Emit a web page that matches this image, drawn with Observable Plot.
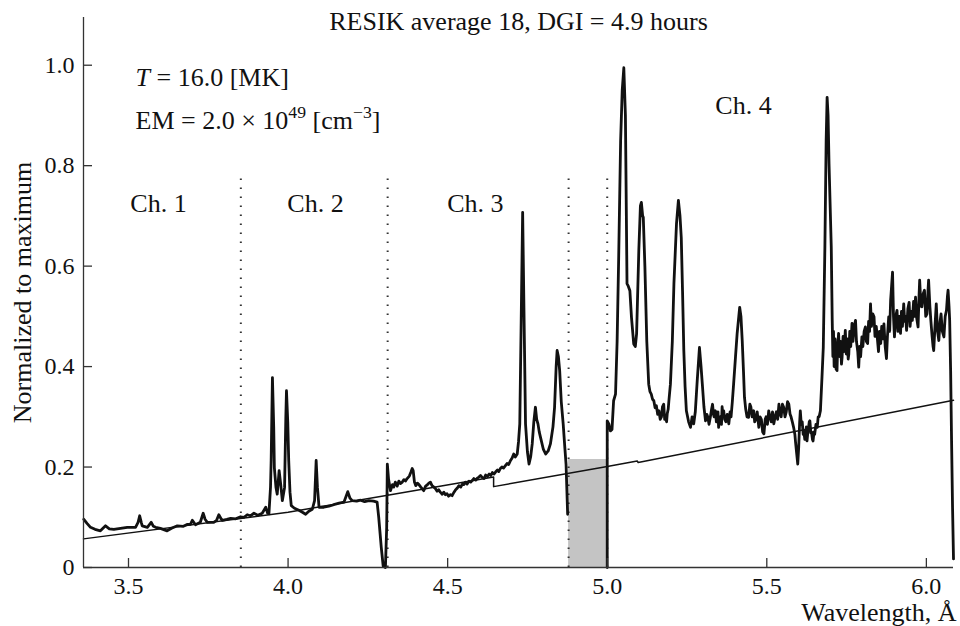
<!DOCTYPE html>
<html>
<head>
<meta charset="utf-8">
<script src="https://cdn.jsdelivr.net/npm/d3@7"></script>
<script src="https://cdn.jsdelivr.net/npm/@observablehq/plot@0.6"></script>
<style>
  html, body { margin: 0; padding: 0; background: #fff; }
  #chart svg { display: block; }
</style>
</head>
<body>
<div id="chart"></div>
<script>
// RESIK averaged spectrum, [wavelength Å, normalized intensity]
// Channels 1–3 form one continuous trace; channel 4 starts after the uncovered gap.
const spectrumCh1to3 = [
  [3.360, 0.096], [3.370, 0.088], [3.381, 0.080], [3.395, 0.076], [3.412, 0.073],
  [3.428, 0.083], [3.440, 0.077], [3.454, 0.076], [3.475, 0.078], [3.496, 0.080],
  [3.522, 0.080], [3.530, 0.090], [3.535, 0.103], [3.540, 0.090], [3.543, 0.083],
  [3.559, 0.080], [3.571, 0.090], [3.578, 0.082], [3.585, 0.080], [3.600, 0.078],
  [3.621, 0.073], [3.635, 0.078], [3.653, 0.083], [3.672, 0.082], [3.685, 0.086],
  [3.694, 0.086], [3.700, 0.094], [3.710, 0.085], [3.725, 0.090], [3.734, 0.108],
  [3.740, 0.096], [3.747, 0.090], [3.767, 0.090], [3.776, 0.094], [3.783, 0.105],
  [3.790, 0.097], [3.794, 0.094], [3.808, 0.096], [3.820, 0.098], [3.836, 0.097],
  [3.851, 0.101], [3.862, 0.100], [3.872, 0.105], [3.882, 0.103], [3.893, 0.108],
  [3.905, 0.104], [3.919, 0.108], [3.930, 0.120], [3.936, 0.108], [3.940, 0.107],
  [3.945, 0.160], [3.947, 0.213], [3.951, 0.378], [3.955, 0.280], [3.957, 0.199],
  [3.962, 0.160], [3.966, 0.146], [3.972, 0.193], [3.977, 0.165], [3.982, 0.133],
  [3.989, 0.159], [3.993, 0.300], [3.995, 0.352], [3.999, 0.290], [4.002, 0.213],
  [4.006, 0.150], [4.010, 0.123], [4.020, 0.118], [4.034, 0.114], [4.045, 0.110],
  [4.055, 0.106], [4.065, 0.112], [4.076, 0.116], [4.083, 0.133], [4.088, 0.213],
  [4.092, 0.160], [4.097, 0.120], [4.112, 0.120], [4.128, 0.122], [4.143, 0.125],
  [4.160, 0.128], [4.175, 0.130], [4.187, 0.151], [4.194, 0.138], [4.201, 0.133],
  [4.215, 0.132], [4.227, 0.134], [4.240, 0.131], [4.253, 0.133], [4.268, 0.132],
  [4.279, 0.130], [4.284, 0.100], [4.292, 0.040], [4.298, 0.003], [4.305, 0.000],
  [4.309, 0.080], [4.311, 0.206], [4.315, 0.175], [4.321, 0.153], [4.327, 0.165],
  [4.331, 0.160], [4.336, 0.170], [4.342, 0.162], [4.347, 0.172], [4.352, 0.167],
  [4.358, 0.170], [4.363, 0.175], [4.368, 0.172], [4.373, 0.177], [4.380, 0.182],
  [4.385, 0.190], [4.389, 0.197], [4.392, 0.193], [4.396, 0.170], [4.400, 0.163],
  [4.405, 0.168], [4.410, 0.165], [4.416, 0.160], [4.420, 0.157], [4.425, 0.153],
  [4.431, 0.162], [4.437, 0.165], [4.441, 0.168], [4.446, 0.170], [4.451, 0.163],
  [4.457, 0.160], [4.462, 0.157], [4.467, 0.152], [4.472, 0.155], [4.477, 0.150],
  [4.483, 0.146], [4.488, 0.150], [4.493, 0.145], [4.498, 0.147], [4.503, 0.142],
  [4.509, 0.145], [4.514, 0.143], [4.520, 0.150], [4.525, 0.155], [4.530, 0.158],
  [4.535, 0.163], [4.541, 0.160], [4.546, 0.166], [4.551, 0.165], [4.556, 0.170],
  [4.561, 0.166], [4.567, 0.172], [4.572, 0.170], [4.577, 0.173], [4.582, 0.177],
  [4.588, 0.174], [4.593, 0.178], [4.598, 0.180], [4.603, 0.183], [4.609, 0.179],
  [4.614, 0.177], [4.619, 0.184], [4.624, 0.181], [4.630, 0.186], [4.635, 0.183],
  [4.640, 0.189], [4.645, 0.186], [4.650, 0.190], [4.656, 0.194], [4.660, 0.191],
  [4.665, 0.197], [4.670, 0.200], [4.675, 0.198], [4.681, 0.203], [4.686, 0.207],
  [4.691, 0.205], [4.697, 0.213], [4.702, 0.218], [4.707, 0.226], [4.712, 0.220],
  [4.718, 0.226], [4.722, 0.250], [4.726, 0.286], [4.730, 0.472], [4.735, 0.707],
  [4.739, 0.518], [4.744, 0.286], [4.750, 0.230], [4.755, 0.206], [4.760, 0.220],
  [4.765, 0.246], [4.770, 0.290], [4.775, 0.319], [4.779, 0.295], [4.783, 0.286],
  [4.787, 0.270], [4.791, 0.259], [4.800, 0.235], [4.807, 0.226], [4.815, 0.232],
  [4.822, 0.246], [4.830, 0.280], [4.835, 0.319], [4.840, 0.400], [4.843, 0.432],
  [4.847, 0.420], [4.851, 0.392], [4.856, 0.330], [4.862, 0.286], [4.867, 0.240],
  [4.871, 0.206], [4.876, 0.106]
];
const spectrumCh4 = [
  [5.000, 0.000], [5.000, 0.292], [5.005, 0.286], [5.010, 0.272], [5.015, 0.275],
  [5.020, 0.332], [5.026, 0.345], [5.031, 0.450], [5.036, 0.620], [5.042, 0.850],
  [5.047, 0.950], [5.052, 0.995], [5.057, 0.900], [5.062, 0.565], [5.066, 0.560],
  [5.071, 0.551], [5.076, 0.498], [5.083, 0.445], [5.088, 0.440], [5.092, 0.465],
  [5.099, 0.631], [5.104, 0.720], [5.107, 0.727], [5.111, 0.700], [5.113, 0.697],
  [5.118, 0.600], [5.124, 0.450], [5.130, 0.365], [5.134, 0.350], [5.138, 0.345],
  [5.142, 0.335], [5.146, 0.332], [5.150, 0.318], [5.154, 0.322], [5.158, 0.305],
  [5.162, 0.312], [5.166, 0.295], [5.170, 0.300], [5.173, 0.320], [5.177, 0.325],
  [5.180, 0.295], [5.183, 0.300], [5.186, 0.290], [5.188, 0.306], [5.191, 0.315],
  [5.193, 0.330], [5.198, 0.365], [5.204, 0.450], [5.209, 0.565], [5.217, 0.684],
  [5.223, 0.731], [5.228, 0.700], [5.232, 0.657], [5.236, 0.550], [5.240, 0.432],
  [5.244, 0.360], [5.248, 0.312], [5.255, 0.290], [5.261, 0.279], [5.266, 0.300],
  [5.271, 0.286], [5.276, 0.310], [5.282, 0.372], [5.289, 0.438], [5.294, 0.400],
  [5.298, 0.365], [5.303, 0.320], [5.308, 0.292], [5.312, 0.305], [5.315, 0.300],
  [5.319, 0.285], [5.323, 0.299], [5.327, 0.315], [5.330, 0.325], [5.333, 0.305],
  [5.335, 0.300], [5.339, 0.312], [5.342, 0.290], [5.344, 0.295], [5.347, 0.310],
  [5.349, 0.279], [5.352, 0.295], [5.355, 0.300], [5.358, 0.285], [5.360, 0.320],
  [5.363, 0.300], [5.365, 0.312], [5.368, 0.295], [5.372, 0.290], [5.376, 0.305],
  [5.381, 0.286], [5.385, 0.310], [5.388, 0.300], [5.392, 0.330], [5.396, 0.365],
  [5.402, 0.420], [5.407, 0.465], [5.415, 0.518], [5.419, 0.500], [5.423, 0.452],
  [5.427, 0.390], [5.430, 0.339], [5.434, 0.315], [5.438, 0.300], [5.443, 0.299],
  [5.447, 0.325], [5.450, 0.320], [5.454, 0.300], [5.459, 0.312], [5.462, 0.290],
  [5.466, 0.295], [5.470, 0.310], [5.475, 0.279], [5.479, 0.300], [5.483, 0.295],
  [5.487, 0.270], [5.491, 0.266], [5.495, 0.295], [5.498, 0.300], [5.502, 0.285],
  [5.506, 0.312], [5.510, 0.300], [5.514, 0.290], [5.518, 0.310], [5.522, 0.286],
  [5.526, 0.300], [5.530, 0.310], [5.534, 0.295], [5.538, 0.325], [5.542, 0.305],
  [5.545, 0.300], [5.549, 0.325], [5.553, 0.319], [5.557, 0.300], [5.561, 0.310],
  [5.565, 0.330], [5.569, 0.325], [5.573, 0.305], [5.576, 0.300], [5.580, 0.290],
  [5.584, 0.279], [5.588, 0.265], [5.590, 0.250], [5.594, 0.225], [5.597, 0.206],
  [5.600, 0.240], [5.603, 0.290], [5.605, 0.312], [5.608, 0.285], [5.611, 0.290],
  [5.614, 0.265], [5.616, 0.272], [5.619, 0.255], [5.621, 0.260], [5.624, 0.280],
  [5.626, 0.252], [5.628, 0.265], [5.630, 0.275], [5.633, 0.290], [5.635, 0.292],
  [5.638, 0.268], [5.640, 0.270], [5.643, 0.255], [5.645, 0.252], [5.648, 0.270],
  [5.650, 0.265], [5.654, 0.285], [5.658, 0.279], [5.661, 0.300], [5.664, 0.300],
  [5.668, 0.312], [5.673, 0.380], [5.677, 0.438], [5.682, 0.637], [5.686, 0.850],
  [5.689, 0.936], [5.692, 0.900], [5.695, 0.804], [5.702, 0.637], [5.705, 0.492],
  [5.707, 0.420], [5.709, 0.470], [5.711, 0.400], [5.714, 0.455], [5.717, 0.395],
  [5.720, 0.392], [5.722, 0.440], [5.725, 0.466], [5.728, 0.420], [5.731, 0.450],
  [5.734, 0.405], [5.736, 0.419], [5.739, 0.460], [5.742, 0.430], [5.746, 0.472],
  [5.749, 0.425], [5.752, 0.455], [5.755, 0.415], [5.757, 0.425], [5.760, 0.470],
  [5.763, 0.440], [5.767, 0.486], [5.770, 0.450], [5.774, 0.480], [5.778, 0.492],
  [5.781, 0.450], [5.785, 0.430], [5.788, 0.399], [5.791, 0.440], [5.794, 0.420],
  [5.798, 0.459], [5.801, 0.440], [5.805, 0.470], [5.809, 0.479], [5.812, 0.450],
  [5.816, 0.446], [5.819, 0.490], [5.822, 0.470], [5.825, 0.525], [5.828, 0.480],
  [5.832, 0.505], [5.836, 0.499], [5.839, 0.460], [5.843, 0.480], [5.846, 0.459],
  [5.850, 0.430], [5.853, 0.470], [5.857, 0.446], [5.860, 0.480], [5.864, 0.455],
  [5.867, 0.485], [5.871, 0.440], [5.875, 0.416], [5.878, 0.460], [5.882, 0.499],
  [5.885, 0.470], [5.888, 0.532], [5.891, 0.560], [5.894, 0.588], [5.897, 0.500],
  [5.900, 0.459], [5.904, 0.500], [5.908, 0.512], [5.911, 0.470], [5.915, 0.500],
  [5.919, 0.466], [5.922, 0.510], [5.925, 0.480], [5.929, 0.525], [5.932, 0.490],
  [5.935, 0.500], [5.938, 0.472], [5.942, 0.515], [5.946, 0.528], [5.949, 0.480],
  [5.953, 0.510], [5.956, 0.492], [5.960, 0.530], [5.963, 0.500], [5.966, 0.538],
  [5.970, 0.495], [5.974, 0.479], [5.977, 0.540], [5.979, 0.572], [5.983, 0.520],
  [5.986, 0.519], [5.990, 0.545], [5.994, 0.552], [5.998, 0.500], [6.002, 0.505],
  [6.005, 0.550], [6.007, 0.572], [6.011, 0.520], [6.014, 0.492], [6.018, 0.460],
  [6.021, 0.440], [6.023, 0.432], [6.027, 0.480], [6.031, 0.525], [6.035, 0.470],
  [6.039, 0.452], [6.043, 0.490], [6.046, 0.505], [6.050, 0.470], [6.055, 0.459],
  [6.059, 0.500], [6.063, 0.512], [6.066, 0.540], [6.068, 0.552], [6.071, 0.520],
  [6.073, 0.492], [6.076, 0.392], [6.079, 0.250], [6.082, 0.120], [6.085, 0.017]
];

// Fitted continuum (thin line)
const continuumFit = [
  [3.359, 0.057], [4.000, 0.110], [4.312, 0.144], [4.644, 0.180], [4.644, 0.161],
  [5.000, 0.201], [5.094, 0.212], [5.097, 0.209], [6.085, 0.333]
];

// Channel boundaries (dotted) and the uncovered gap between Ch. 3 and Ch. 4
const channelEdges = [3.852, 4.312, 4.879, 5.000];
const channelEdgeTop = 0.785;
const gapStart = [4.879];
const gapEnd = [5.000];
const gapTop = [0.215];

const channelNames = ["Ch. 1", "Ch. 2", "Ch. 3", "Ch. 4"];
const channelLabelX = [3.594, 4.086, 4.587, 5.427];
const channelLabelY = [0.724, 0.724, 0.724, 0.919];

const title = "RESIK average 18, DGI = 4.9 hours";
const fitText = ["*T* = 16.0 [MK]", "EM = 2.0 × 10^49 [cm^−3]"];
const fitTextX = [3.522, 3.522];
const fitTextY = [0.975, 0.890];

const xTicks = [3.5, 4.0, 4.5, 5.0, 5.5, 6.0];
const yTicks = [0, 0.2, 0.4, 0.6, 0.8, 1.0];
const xDomain = [3.359, 6.085];
const yDomain = [0, 1.095];
const xLabel = "Wavelength, Å";
const yLabel = "Normalized to maximum";

const toPoints = (rows, channel) => rows.map(([x, y]) => ({x, y, channel}));
const spectrum = [...toPoints(spectrumCh1to3, "1–3"), ...toPoints(spectrumCh4, "4")];
const continuum = toPoints(continuumFit, "fit");
const channels = channelNames.map((name, i) => ({name, x: channelLabelX[i], y: channelLabelY[i]}));
const fits = fitText.map((text, i) => ({text, x: fitTextX[i], y: fitTextY[i]}));
const gaps = gapStart.map((x1, i) => ({x1, x2: gapEnd[i], y1: 0, y2: gapTop[i]}));

const W = 960, H = 626;
const M = {top: 17, right: 7, bottom: 59, left: 83};
const innerW = W - M.left - M.right;
const innerH = H - M.top - M.bottom;
const tickLen = 9;
const FS = 26;
const TICK_FS = 24;
const ink = "#111";
const axisInk = "#333";

const svg = Plot.plot({
  width: W,
  height: H,
  marginTop: M.top,
  marginRight: M.right,
  marginBottom: M.bottom,
  marginLeft: M.left,
  style: {background: "#fff", fontFamily: "'Liberation Serif', 'Times New Roman', serif", fontSize: TICK_FS + "px", color: ink},
  x: {domain: xDomain, ticks: xTicks, tickSize: 0, tickPadding: 9, tickFormat: d => d.toFixed(1), label: null},
  y: {domain: yDomain, ticks: yTicks, tickSize: 0, tickPadding: 9, tickFormat: d => d === 0 ? "0" : d.toFixed(1), label: null},
  marks: [
    Plot.rect(gaps, {x1: "x1", x2: "x2", y1: "y1", y2: "y2", fill: "#c4c4c4"}),
    Plot.ruleX(channelEdges, {y1: 0, y2: channelEdgeTop, stroke: axisInk, strokeWidth: 2, strokeDasharray: "1.6,7.4"}),
    Plot.line(continuum, {x: "x", y: "y", stroke: ink, strokeWidth: 1.5}),
    Plot.line(spectrum, {x: "x", y: "y", z: "channel", stroke: ink, strokeWidth: 2.8, strokeLinejoin: "round"}),
    // axis lines with inward ticks
    Plot.ruleY([0], {stroke: axisInk, strokeWidth: 1.3}),
    Plot.ruleX([xDomain[0]], {stroke: axisInk, strokeWidth: 1.3}),
    Plot.ruleX(xTicks, {stroke: axisInk, strokeWidth: 1.3, insetTop: innerH - tickLen}),
    Plot.ruleY(yTicks, {stroke: axisInk, strokeWidth: 1.3, insetRight: innerW - tickLen}),
    // labels
    Plot.text(channels, {x: "x", y: "y", text: "name", fill: ink, fontSize: FS}),
    Plot.text(fits, {x: "x", y: "y", text: "text", textAnchor: "start", fill: ink, fontSize: FS}),
    Plot.text([title], {frameAnchor: "top", lineAnchor: "middle", dy: 4, fill: ink, fontSize: FS}),
    Plot.text([yLabel], {frameAnchor: "left", textAnchor: "middle", lineAnchor: "middle", rotate: -90, dx: -61, fill: ink, fontSize: FS}),
    Plot.text([xLabel], {frameAnchor: "bottom-right", textAnchor: "end", lineAnchor: "bottom", dx: 3, dy: 53, fill: ink, fontSize: FS})
  ]
});

// Rich text for the fit parameters: *italic* and ^superscript segments
const sup = 0.42 * FS;
d3.select(svg).selectAll("text").each(function() {
  const raw = this.textContent;
  if (!fitText.includes(raw)) return;
  const node = d3.select(this);
  node.text(null);
  const parts = raw.split(/(\*[^*]+\*|\^[^\s\]]+)/).filter(s => s.length);
  let raised = false;
  for (const p of parts) {
    const t = node.append("tspan");
    if (p.startsWith("*")) {
      t.attr("font-style", "italic").text(p.slice(1, -1));
      if (raised) { t.attr("dy", sup); raised = false; }
    } else if (p.startsWith("^")) {
      t.attr("font-size", 0.68 * FS).attr("dy", -sup).text(p.slice(1));
      raised = true;
    } else {
      t.text(p);
      if (raised) { t.attr("dy", sup); raised = false; }
    }
  }
});

document.getElementById("chart").appendChild(svg);
</script>
</body>
</html>
